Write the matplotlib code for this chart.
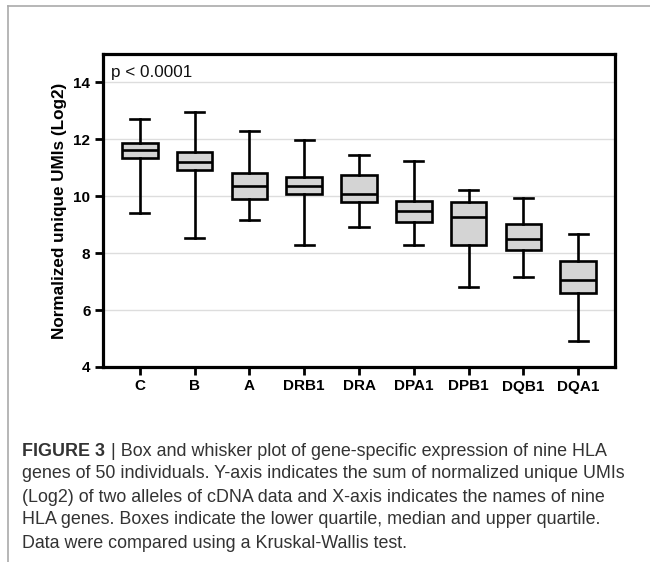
import matplotlib
matplotlib.use("Agg")
import matplotlib.pyplot as plt
from matplotlib.lines import Line2D

plt.rcParams['font.family'] = ['Liberation Sans', 'DejaVu Sans']

genes = ["C", "B", "A", "DRB1", "DRA", "DPA1", "DPB1", "DQB1", "DQA1"]
whisker_low = [9.41, 8.53, 9.15, 8.30, 8.93, 8.28, 6.81, 7.17, 4.93]
q1 = [11.33, 10.93, 9.90, 10.07, 9.79, 9.10, 8.30, 8.12, 6.60]
median = [11.62, 11.19, 10.37, 10.37, 10.09, 9.49, 9.26, 8.50, 7.04]
q3 = [11.88, 11.56, 10.82, 10.69, 10.74, 9.82, 9.80, 9.02, 7.73]
whisker_high = [12.72, 12.95, 12.31, 11.98, 11.46, 11.24, 10.23, 9.95, 8.68]
y_ticks = [4, 6, 8, 10, 12, 14]
p_text = "p < 0.0001"
y_label = "Normalized unique UMIs (Log2)"
caption_bold = "FIGURE 3"
caption_lines = [
    " | Box and whisker plot of gene-specific expression of nine HLA",
    "genes of 50 individuals. Y-axis indicates the sum of normalized unique UMIs",
    "(Log2) of two alleles of cDNA data and X-axis indicates the names of nine",
    "HLA genes. Boxes indicate the lower quartile, median and upper quartile.",
    "Data were compared using a Kruskal-Wallis test.",
]

W, H = 650, 562
fig = plt.figure(figsize=(W / 100, H / 100), dpi=100)
ax = fig.add_axes([103 / W, 1 - 367 / H, (615 - 103) / W, (367 - 54) / H])

stats = []
for i, g in enumerate(genes):
    stats.append(dict(label=g, whislo=whisker_low[i], q1=q1[i], med=median[i],
                      q3=q3[i], whishi=whisker_high[i], fliers=[]))

lw = 1.9
ax.bxp(stats, positions=range(1, len(genes) + 1), widths=0.65,
       patch_artist=True, showfliers=False,
       boxprops=dict(facecolor="#d4d4d4", edgecolor="black", linewidth=lw),
       medianprops=dict(color="black", linewidth=lw),
       whiskerprops=dict(color="black", linewidth=lw),
       capprops=dict(color="black", linewidth=lw),
       capwidths=0.35)

ax.set_xlim(0.33, 9.67)
ax.set_ylim(4, 15)
ax.set_yticks(y_ticks)
ax.yaxis.grid(True, color="#dddddd", linewidth=1.0)
ax.set_axisbelow(True)
for s in ax.spines.values():
    s.set_linewidth(2.3)
    s.set_color("black")
ax.tick_params(axis="both", direction="out", length=6, width=2.0,
               labelsize=11, pad=3)
ax.tick_params(top=False, right=False)
for lab in ax.get_xticklabels() + ax.get_yticklabels():
    lab.set_fontweight("bold")
ax.set_xticklabels(genes, fontweight="bold", fontsize=11)
ax.set_ylabel(y_label, fontsize=12.3, fontweight="bold", labelpad=5)

ax.text(8 / 512, (367 - 72) / 313, p_text, transform=ax.transAxes,
        fontsize=12.3, ha="left", va="center", color="#111111")

# figure frame lines
fig.add_artist(Line2D([8 / W, 8 / W], [0, 1 - 6 / H], transform=fig.transFigure,
                      color="#aaaaaa", linewidth=1.2))
fig.add_artist(Line2D([8 / W, 1], [1 - 6 / H, 1 - 6 / H], transform=fig.transFigure,
                      color="#aaaaaa", linewidth=1.2))

# caption
cap_color = "#333333"
cap_fs = 12.9
x0 = 22.5 / W
ys = [451, 474, 497, 520, 543]
t = fig.text(x0, 1 - ys[0] / H, caption_bold, fontsize=cap_fs, fontweight="bold",
             color=cap_color, ha="left", va="center")
fig.canvas.draw()
bb = t.get_window_extent()
fig.text(bb.x1 / W, 1 - ys[0] / H, caption_lines[0], fontsize=cap_fs,
         color=cap_color, ha="left", va="center")
for k in range(1, 5):
    fig.text(x0, 1 - ys[k] / H, caption_lines[k], fontsize=cap_fs,
             color=cap_color, ha="left", va="center")

fig.savefig("out.png", dpi=100)
